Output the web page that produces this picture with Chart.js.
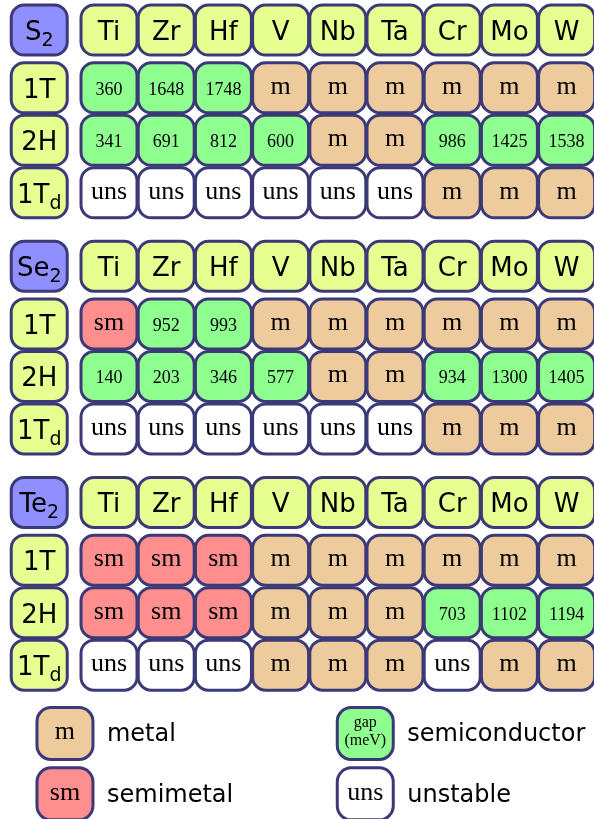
<!DOCTYPE html>
<html>
<head>
<meta charset="utf-8">
<script src="https://cdn.jsdelivr.net/npm/chart.js@4.4.1/dist/chart.umd.min.js"></script>
<style>
 html,body{margin:0;padding:0;background:#fff;}
 #wrap{width:594px;height:819px;position:relative;}
</style>
</head>
<body>
<div id="wrap"><canvas id="tmd"></canvas></div>
<script>
// metals (columns), chalcogens (blocks), phases (rows)
const metals=['Ti','Zr','Hf','V','Nb','Ta','Cr','Mo','W'];
const chalcogens=[['S','2'],['Se','2'],['Te','2']];
const phases=[['1T',''],['2H',''],['1T','d']];
// m = metal, sm = semimetal, uns = unstable, number = semiconductor gap (meV)
const S2_1T=['360','1648','1748','m','m','m','m','m','m'];
const S2_2H=['341','691','812','600','m','m','986','1425','1538'];
const S2_1Td=['uns','uns','uns','uns','uns','uns','m','m','m'];
const Se2_1T=['sm','952','993','m','m','m','m','m','m'];
const Se2_2H=['140','203','346','577','m','m','934','1300','1405'];
const Se2_1Td=['uns','uns','uns','uns','uns','uns','m','m','m'];
const Te2_1T=['sm','sm','sm','m','m','m','m','m','m'];
const Te2_2H=['sm','sm','sm','m','m','m','703','1102','1194'];
const Te2_1Td=['uns','uns','uns','m','m','m','uns','m','m'];
const grid=[[S2_1T,S2_2H,S2_1Td],[Se2_1T,Se2_2H,Se2_1Td],[Te2_1T,Te2_2H,Te2_1Td]];
const legendItems=[['m','metal'],['gap\n(meV)','semiconductor'],['sm','semimetal'],['uns','unstable']];

const COL={head:'#e6ff90',chal:'#8f8fff',m:'#eecb9c',sm:'#ff8f8f',gap:'#8fff8f',uns:'#ffffff'};
const EDGE='#3b3977';
const kind=v=>v==='m'?'m':v==='sm'?'sm':v==='uns'?'uns':'gap';
const LABEL_X=-1.22, BLOCK=4.5, ROW0=1.1;

// build point lists
const heads=[],cells=[],legend=[];
chalcogens.forEach((c,b)=>{
  heads.push({x:LABEL_X,y:b*BLOCK,t:c[0],s:c[1],f:COL.chal});
  metals.forEach((m,i)=>heads.push({x:i,y:b*BLOCK,t:m,s:'',f:COL.head}));
  phases.forEach((p,k)=>{
    heads.push({x:LABEL_X,y:b*BLOCK+ROW0+k,t:p[0],s:p[1],f:COL.head});
    grid[b][k].forEach((v,i)=>cells.push({x:i,y:b*BLOCK+ROW0+k,t:v,k:kind(v)}));
  });
});
legendItems.forEach((l,j)=>legend.push({x:j%2?4.48:-0.77,y:j<2?13.4:14.55,t:l[0],lab:l[1],k:kind(l[0].startsWith('gap')?'0':l[0])}));

function rr(ctx,x,y,w,h,r,fill){
  ctx.beginPath();ctx.roundRect(x-w/2,y-h/2,w,h,r);
  ctx.fillStyle=fill;ctx.fill();
  ctx.lineWidth=3;ctx.strokeStyle=EDGE;ctx.stroke();
}
function sansLabel(ctx,x,y,t,s){
  ctx.fillStyle='#000';ctx.textBaseline='alphabetic';ctx.textAlign='left';
  ctx.font='26px "DejaVu Sans"';const w1=ctx.measureText(t).width;
  ctx.font='19px "DejaVu Sans"';const w2=s?ctx.measureText(s).width:0;
  const x0=x-(w1+w2)/2;
  ctx.font='26px "DejaVu Sans"';ctx.fillText(t,x0,y+10);
  if(s){ctx.font='19px "DejaVu Sans"';ctx.fillText(s,x0+w1,y+16);}
}
function serifLabel(ctx,x,y,t){
  ctx.fillStyle='#000';ctx.textAlign='center';ctx.textBaseline='alphabetic';
  if(t.includes('\n')){
    const [a,b]=t.split('\n');ctx.font='16px "Liberation Serif"';
    ctx.fillText(a,x,y-6);ctx.fillText(b,x,y+12);return;
  }
  if(/^\d+$/.test(t)){ctx.font='18px "Liberation Serif"';ctx.fillText(t,x,y+7);}
  else{ctx.font='26px "Liberation Serif"';ctx.fillText(t,x,y+6);}
}

const cellPlugin={id:'cells',afterDatasetsDraw(chart){
  const ctx=chart.ctx;ctx.save();
  chart.data.datasets.forEach((ds,di)=>{
    chart.getDatasetMeta(di).data.forEach((pt,j)=>{
      const d=ds.data[j];
      if(ds.label==='heads'){rr(ctx,pt.x,pt.y,56,50,13,d.f);sansLabel(ctx,pt.x,pt.y,d.t,d.s);}
      else if(ds.label==='cells'){rr(ctx,pt.x,pt.y,56,50,13,COL[d.k]);serifLabel(ctx,pt.x,pt.y,d.t);}
      else{
        rr(ctx,pt.x,pt.y,56,52,14,COL[d.k]);serifLabel(ctx,pt.x,pt.y,d.t);
        ctx.font='24px "DejaVu Sans"';ctx.textAlign='left';ctx.fillStyle='#000';
        ctx.fillText(d.lab,pt.x+42,pt.y+8);
      }
    });
  });
  ctx.restore();
}};

new Chart(document.getElementById('tmd'),{
  type:'scatter',
  data:{datasets:[
    {label:'heads',data:heads,pointRadius:0},
    {label:'cells',data:cells,pointRadius:0},
    {label:'legend',data:legend,pointRadius:0}
  ]},
  options:{
    responsive:true,maintainAspectRatio:false,animation:false,
    layout:{padding:0},
    plugins:{legend:{display:false},tooltip:{enabled:false}},
    scales:{
      x:{type:'linear',min:-1.906,max:8.479,display:false},
      y:{type:'linear',min:-0.5714,max:15.029,reverse:true,display:false}
    }
  },
  plugins:[cellPlugin]
});
</script>
</body>
</html>
